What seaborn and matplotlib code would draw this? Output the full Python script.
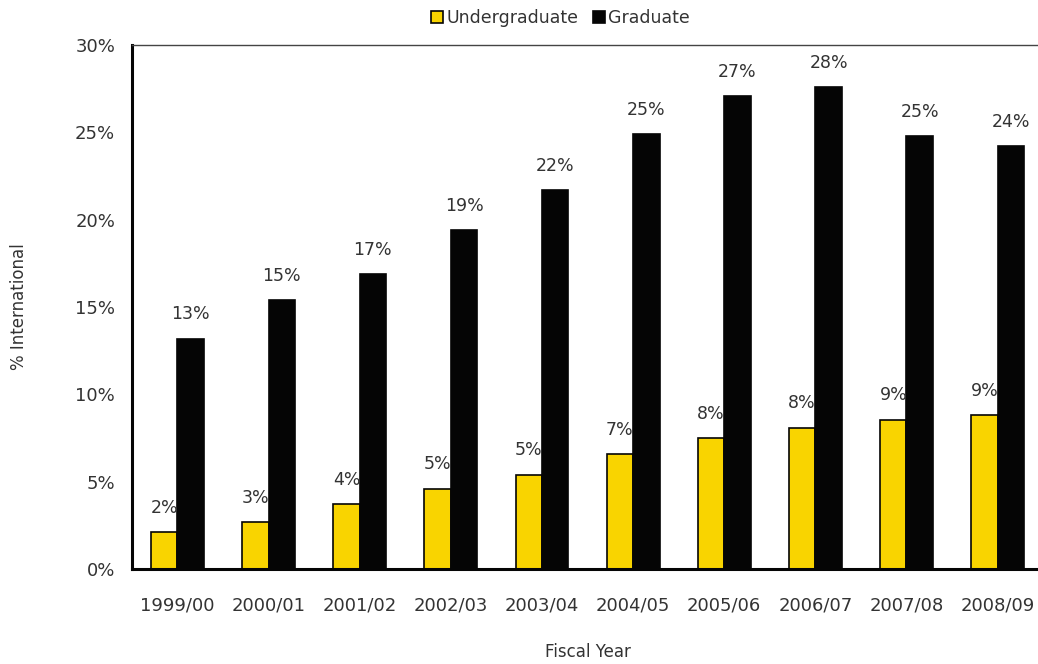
import pandas as pd
import seaborn as sns
import matplotlib.pyplot as plt
from matplotlib.patches import Patch

# ===============================
# DATA
# ===============================
years = ["1999/00", "2000/01", "2001/02", "2002/03", "2003/04",
         "2004/05", "2005/06", "2006/07", "2007/08", "2008/09"]
undergrad = [2.1, 2.7, 3.7, 4.6, 5.4, 6.6, 7.5, 8.1, 8.55, 8.8]
graduate = [13.2, 15.4, 16.9, 19.4, 21.7, 24.9, 27.1, 27.6, 24.8, 24.2]

df = pd.DataFrame({
    "Fiscal Year": years * 2,
    "Level": ["Undergraduate"] * len(years) + ["Graduate"] * len(years),
    "Pct": undergrad + graduate,
})

YELLOW = "#F9D400"
BLACK = "#050505"
TXT = "#333333"

# ===============================
# PLOT
# ===============================
sns.set_style("white")
plt.rcParams["font.family"] = ["DejaVu Sans"]

fig = plt.figure(figsize=(10.38, 6.64), dpi=100)
ax = fig.add_axes([0.127, 0.143, 0.878, 0.789])

sns.barplot(
    data=df, x="Fiscal Year", y="Pct", hue="Level",
    palette={"Undergraduate": YELLOW, "Graduate": BLACK},
    width=0.58, edgecolor=BLACK, linewidth=1.2, saturation=1,
    legend=False, ax=ax,
)

# value labels
for cont in ax.containers:
    for bar in cont:
        h = bar.get_height()
        ax.annotate(f"{h:.0f}%", (bar.get_x() + bar.get_width() / 2, h),
                    xytext=(0, 11), textcoords="offset points",
                    ha="center", va="bottom", fontsize=12.5, color=TXT)

ax.set_ylim(0, 30)
ax.set_xlim(-0.5, len(years) - 0.5)
ax.set_yticks(range(0, 31, 5))
ax.set_yticklabels([f"{v}%" for v in range(0, 31, 5)])

# x ticks between categories
ax.set_xticks([i - 0.5 for i in range(len(years))], minor=False)
ax.set_xticklabels([])
ax.set_xticks(range(len(years)), minor=True)
ax.set_xticklabels(years, minor=True)
ax.tick_params(axis="x", which="major", direction="out", length=7, width=1.5, color=BLACK)
ax.tick_params(axis="x", which="minor", length=0, pad=20, labelsize=13, labelcolor=TXT)
ax.tick_params(axis="y", direction="out", length=6, width=1.5, color=BLACK,
               labelsize=13, labelcolor=TXT, pad=6)

for side in ["left", "bottom"]:
    ax.spines[side].set_linewidth(2.2)
    ax.spines[side].set_color(BLACK)
ax.spines["top"].set_linewidth(1.0)
ax.spines["top"].set_color("#444444")
ax.spines["right"].set_visible(False)

ax.set_xlabel("Fiscal Year", fontsize=12, color=TXT, labelpad=20)
ax.set_ylabel("% International", fontsize=12, color=TXT, labelpad=34)

handles = [Patch(facecolor=YELLOW, edgecolor=BLACK, linewidth=1.2, label="Undergraduate"),
           Patch(facecolor=BLACK, edgecolor=BLACK, linewidth=1.2, label="Graduate")]
leg = fig.legend(handles=handles, loc="center", bbox_to_anchor=(0.54, 0.973),
                 ncol=2, frameon=False, fontsize=12.5, handlelength=0.7,
                 handleheight=0.7, handletextpad=0.2, columnspacing=0.8)
for t in leg.get_texts():
    t.set_color(TXT)

fig.savefig("out.png", dpi=100)
